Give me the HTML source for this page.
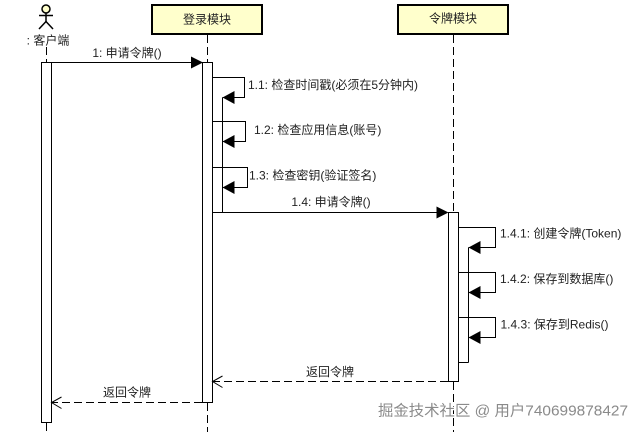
<!DOCTYPE html>
<html><head><meta charset="utf-8"><style>
html,body{margin:0;padding:0;background:#fff;}
svg{display:block;}
text{font-family:"Liberation Sans","Noto Sans CJK SC",sans-serif;font-size:12px;fill:#222;}
</style></head><body>
<svg width="640" height="432" viewBox="0 0 640 432" xmlns="http://www.w3.org/2000/svg">
<rect width="640" height="432" fill="#fff"/>
<!-- actor -->
<g stroke="#000" stroke-width="1.5" fill="none">
<circle cx="46" cy="9" r="4" fill="#ffffcc"/>
<line x1="46" y1="13" x2="46" y2="21.5"/>
<line x1="39" y1="15.5" x2="53" y2="15.5"/>
<line x1="46" y1="21.5" x2="39" y2="29"/>
<line x1="46" y1="21.5" x2="53" y2="29"/>
</g>
<text x="48" y="40.5" text-anchor="middle" dominant-baseline="central">: 客户端</text>
<!-- headers -->
<rect x="152" y="5" width="110" height="29" fill="#ffffcc" stroke="#000" stroke-width="2"/>
<text x="207" y="19.5" text-anchor="middle" dominant-baseline="central">登录模块</text>
<rect x="398" y="5" width="110" height="29" fill="#ffffcc" stroke="#000" stroke-width="2"/>
<text x="453" y="18.5" text-anchor="middle" dominant-baseline="central">令牌模块</text>
<!-- lifelines -->
<g stroke="#000" stroke-width="1" stroke-dasharray="8,4" fill="none">
<line x1="46.5" y1="47" x2="46.5" y2="62"/>
<line x1="46.5" y1="423" x2="46.5" y2="432"/>
<line x1="207.5" y1="35" x2="207.5" y2="62"/>
<line x1="207.5" y1="403" x2="207.5" y2="432"/>
<line x1="453.5" y1="35" x2="453.5" y2="212"/>
<line x1="453.5" y1="382" x2="453.5" y2="432"/>
</g>
<!-- activations -->
<g stroke="#000" stroke-width="1" fill="#fff">
<rect x="41.5" y="62.5" width="10" height="360"/>
<rect x="202.5" y="62.5" width="10" height="340"/>
<rect x="448.5" y="212.5" width="10" height="169"/>
</g>
<g stroke="#000" stroke-width="1" fill="none">
<!-- login nested -->
<line x1="222.5" y1="97.5" x2="222.5" y2="212.5"/>
<path d="M212.5 77.5 H244.5 V97.5 H222.5"/>
<path d="M212.5 121.5 H245.5 V141.5 H222.5"/>
<path d="M212.5 167.5 H247.5 V187.5 H222.5"/>
<!-- token nested -->
<line x1="468.5" y1="247.5" x2="468.5" y2="362.5"/>
<line x1="458.5" y1="362.5" x2="468.5" y2="362.5"/>
<path d="M458.5 227.5 H495.5 V247.5 H468.5"/>
<path d="M458.5 272.5 H495.5 V292.5 H468.5"/>
<path d="M458.5 317.5 H495.5 V337.5 H468.5"/>
<!-- messages -->
<line x1="51.5" y1="62.5" x2="192" y2="62.5"/>
<line x1="212.5" y1="212.5" x2="438" y2="212.5"/>
</g>
<!-- filled arrowheads -->
<g fill="#000">
<polygon points="203,62.5 191,56.5 191,68.5"/>
<polygon points="448.5,212.5 436.5,206.5 436.5,218.5"/>
<polygon points="222.5,97.5 234.5,91 234.5,104"/>
<polygon points="222.5,141.5 234.5,135 234.5,148"/>
<polygon points="222.5,187.5 234.5,181 234.5,194"/>
<polygon points="468.5,247.5 480.5,241 480.5,254"/>
<polygon points="468.5,292.5 480.5,286 480.5,299"/>
<polygon points="468.5,337.5 480.5,331 480.5,344"/>
</g>
<!-- returns -->
<g stroke="#000" stroke-width="1" fill="none">
<line x1="448" y1="381.5" x2="213" y2="381.5" stroke-dasharray="8,4"/>
<polyline points="222.5,376 212.5,381.5 222.5,387.5"/>
<line x1="202" y1="402.5" x2="52" y2="402.5" stroke-dasharray="8,4"/>
<polyline points="61.5,397 51.5,402.5 61.5,408.5"/>
</g>
<!-- labels -->
<text x="127" y="53" text-anchor="middle" dominant-baseline="central">1: 申请令牌()</text>
<text x="248" y="85" dominant-baseline="central">1.1: 检查时间戳(必须在5分钟内)</text>
<text x="254" y="130" dominant-baseline="central">1.2: 检查应用信息(账号)</text>
<text x="249" y="175.5" dominant-baseline="central">1.3: 检查密钥(验证签名)</text>
<text x="331" y="202" text-anchor="middle" dominant-baseline="central">1.4: 申请令牌()</text>
<text x="500" y="233.5" dominant-baseline="central">1.4.1: 创建令牌(Token)</text>
<text x="500" y="279" dominant-baseline="central">1.4.2: 保存到数据库()</text>
<text x="500.5" y="324.5" dominant-baseline="central">1.4.3: 保存到Redis()</text>
<text x="330" y="372" text-anchor="middle" dominant-baseline="central">返回令牌</text>
<text x="127" y="392.5" text-anchor="middle" dominant-baseline="central">返回令牌</text>
<!-- watermark -->
<text x="378" y="411" dominant-baseline="central" textLength="250" lengthAdjust="spacingAndGlyphs" style="font-size:15px;fill:#8a8a8a;stroke:#fff;stroke-width:2.5px;paint-order:stroke;">掘金技术社区 @ 用户740699878427</text>
</svg>
</body></html>
